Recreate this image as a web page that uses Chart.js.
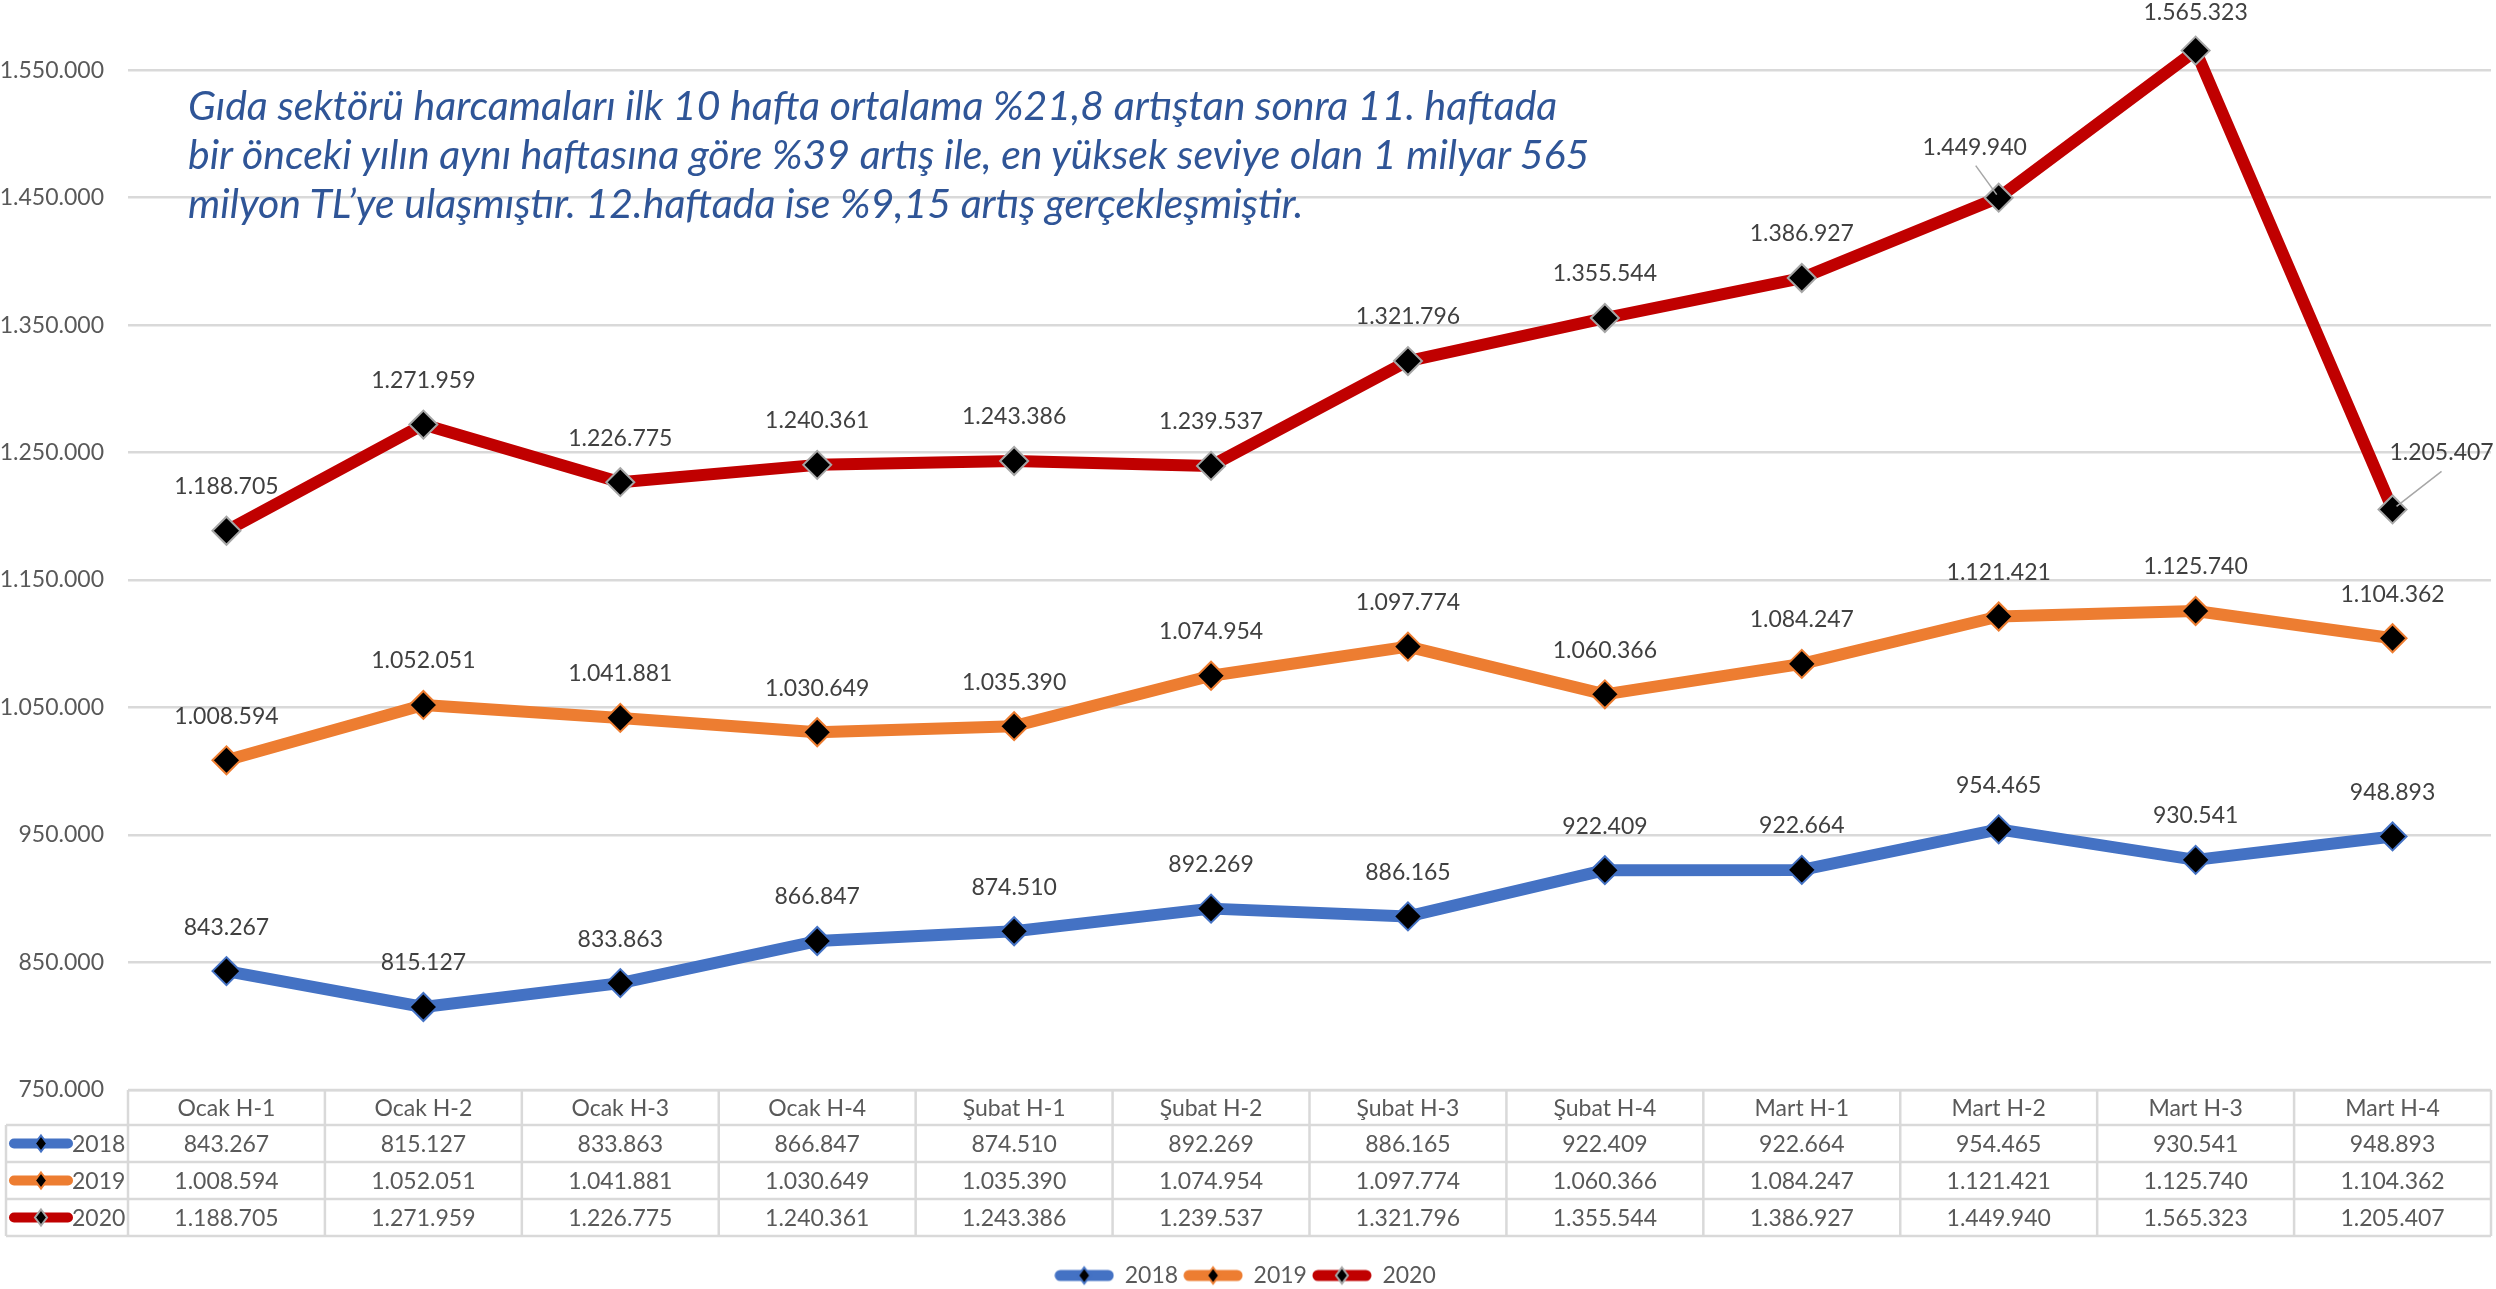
<!DOCTYPE html>
<html lang="tr">
<head>
<meta charset="utf-8">
<title>Gıda sektörü harcamaları</title>
<script src="https://cdn.jsdelivr.net/npm/chart.js@4.4.1/dist/chart.umd.min.js"></script>
<style>
  html, body { margin:0; padding:0; background:#fff; }
  #wrap { position:relative; width:2496px; height:1289px; }
  #note {
    position:absolute; left:188px; top:80px; width:1700px;
    font-family:Lato, 'Open Sans', sans-serif; font-style:italic;
    font-size:41px; line-height:49px; color:#2F5597; white-space:nowrap;
  }
</style>
</head>
<body>
<div id="wrap">
  <canvas id="chart" width="2496" height="1289"></canvas>
  <div id="note">Gıda sektörü harcamaları ilk 10 hafta ortalama %21,8 artıştan sonra 11. haftada<br>bir önceki yılın aynı haftasına göre %39 artış ile, en yüksek seviye olan 1 milyar 565<br>milyon TL’ye ulaşmıştır. 12.haftada ise %9,15 artış gerçekleşmiştir.</div>
</div>
<script>
// ── Data ───────────────────────────────────────────────────
const weeks = ['Ocak H-1','Ocak H-2','Ocak H-3','Ocak H-4','Şubat H-1','Şubat H-2','Şubat H-3','Şubat H-4','Mart H-1','Mart H-2','Mart H-3','Mart H-4'];
const years = ['2018','2019','2020'];
const y2018 = [843267,815127,833863,866847,874510,892269,886165,922409,922664,954465,930541,948893];
const y2019 = [1008594,1052051,1041881,1030649,1035390,1074954,1097774,1060366,1084247,1121421,1125740,1104362];
const y2020 = [1188705,1271959,1226775,1240361,1243386,1239537,1321796,1355544,1386927,1449940,1565323,1205407];
const yTicks = [750000,850000,950000,1050000,1150000,1250000,1350000,1450000,1550000];

const lineColors   = ['#4472C4','#ED7D31','#C00000'];
const markerBorder = ['#4472C4','#ED7D31','#A6A6A6'];
const FONT = "Lato, 'Open Sans', sans-serif";
const GREY = '#595959';
const GRID = '#D9D9D9';
const FS = 23;
const PLOT_BOTTOM = 1090;
const PAD_BOTTOM = -8;

function fmt(n) { return String(n).replace(/\B(?=(\d{3})+(?!\d))/g, '.'); }

// ── Legend key: thick line with a diamond ──────────────────
function drawKey(ctx, x0, x1, cy, i, lw, r) {
  ctx.save();
  ctx.strokeStyle = lineColors[i];
  ctx.lineWidth = lw;
  ctx.lineCap = 'round';
  ctx.beginPath(); ctx.moveTo(x0, cy); ctx.lineTo(x1, cy); ctx.stroke();
  const cx = (x0 + x1) / 2;
  ctx.beginPath();
  ctx.moveTo(cx, cy - r); ctx.lineTo(cx + r * 0.75, cy); ctx.lineTo(cx, cy + r); ctx.lineTo(cx - r * 0.75, cy); ctx.closePath();
  ctx.fillStyle = '#000'; ctx.fill();
  ctx.lineWidth = 2; ctx.strokeStyle = markerBorder[i]; ctx.stroke();
  ctx.restore();
}

function keyCanvas(i) {
  const c = document.createElement('canvas');
  c.width = 60; c.height = 22;
  drawKey(c.getContext('2d'), 6, 54, 11, i, 11, 8);
  return c;
}

// ── Data labels on the points ──────────────────────────────
const labelPlugin = {
  id: 'pointLabels',
  afterDatasetsDraw(chart) {
    const ctx = chart.ctx;
    ctx.save();
    ctx.font = FS + 'px ' + FONT;
    ctx.fillStyle = '#404040';
    ctx.textAlign = 'center';
    ctx.textBaseline = 'middle';
    chart.data.datasets.forEach((ds, di) => {
      chart.getDatasetMeta(di).data.forEach((pt, i) => {
        let dx = 0, dy = -44, lead = null;
        if (di === 2 && i === 9)  { dx = -24; dy = -50; lead = [[-23, -32], [-2, -3]]; }
        if (di === 2 && i === 10) { dy = -38; }
        if (di === 2 && i === 11) { dx = 49; dy = -57; lead = [[49, -38], [4, -3]]; }
        if (lead) {
          ctx.save();
          ctx.strokeStyle = '#A6A6A6'; ctx.lineWidth = 1.5;
          ctx.beginPath();
          ctx.moveTo(pt.x + lead[0][0], pt.y + lead[0][1]);
          ctx.lineTo(pt.x + lead[1][0], pt.y + lead[1][1]);
          ctx.stroke();
          ctx.restore();
        }
        ctx.fillText(fmt(ds.data[i]), pt.x + dx, pt.y + dy);
      });
    });
    ctx.restore();
  }
};

// ── Data table under the plot ──────────────────────────────
const tablePlugin = {
  id: 'dataTable',
  afterDraw(chart) {
    const ctx = chart.ctx;
    const xs = chart.scales.x;
    const half = (xs.getPixelForValue(1) - xs.getPixelForValue(0)) / 2;
    const top = chart.chartArea.bottom;
    const rowH = [35, 37, 37, 37];
    const rows = [top];
    rowH.forEach(h => rows.push(rows[rows.length - 1] + h));
    const left = 6;
    const x0 = xs.getPixelForValue(0) - half;
    const x1 = xs.getPixelForValue(weeks.length - 1) + half;
    const series = [y2018, y2019, y2020];

    ctx.save();
    ctx.strokeStyle = GRID;
    ctx.lineWidth = 2.5;
    ctx.beginPath();
    ctx.moveTo(x0, rows[0]); ctx.lineTo(x1, rows[0]);
    for (let r = 1; r < rows.length; r++) { ctx.moveTo(left, rows[r]); ctx.lineTo(x1, rows[r]); }
    ctx.moveTo(left, rows[1]); ctx.lineTo(left, rows[4]);
    for (let i = 0; i <= weeks.length; i++) {
      const x = x0 + i * half * 2;
      ctx.moveTo(x, rows[0]); ctx.lineTo(x, rows[4]);
    }
    ctx.stroke();

    ctx.font = FS + 'px ' + FONT;
    ctx.fillStyle = GREY;
    ctx.textAlign = 'center';
    ctx.textBaseline = 'middle';
    weeks.forEach((w, i) => {
      const cx = xs.getPixelForValue(i);
      ctx.fillText(w, cx, (rows[0] + rows[1]) / 2 + 1);
      series.forEach((s, si) => ctx.fillText(fmt(s[i]), cx, (rows[si + 1] + rows[si + 2]) / 2 + 1));
    });
    years.forEach((y, si) => {
      const cy = (rows[si + 1] + rows[si + 2]) / 2;
      drawKey(ctx, 14, 68, cy, si, 10, 8);
      ctx.fillStyle = GREY;
      ctx.textAlign = 'left';
      ctx.fillText(y, 72, cy + 1);
    });
    ctx.restore();
  }
};

function dataset(label, data, i) {
  return {
    label, data,
    borderColor: lineColors[i],
    backgroundColor: lineColors[i],
    borderWidth: 12,
    borderCapStyle: 'round',
    borderJoinStyle: 'round',
    tension: 0,
    pointStyle: 'rectRot',
    pointRadius: 14,
    pointHoverRadius: 14,
    pointBackgroundColor: '#000',
    pointBorderColor: markerBorder[i],
    pointBorderWidth: 2,
    clip: false
  };
}

Chart.defaults.font.family = FONT;
Chart.defaults.color = GREY;

new Chart(document.getElementById('chart'), {
  type: 'line',
  data: {
    labels: weeks,
    datasets: [dataset(years[0], y2018, 0), dataset(years[1], y2019, 1), dataset(years[2], y2020, 2)]
  },
  options: {
    responsive: false,
    animation: false,
    layout: { autoPadding: false, padding: { left: 0, right: 5, top: 0, bottom: PAD_BOTTOM } },
    scales: {
      x: {
        type: 'category',
        offset: true,
        grid: { display: false },
        border: { display: false },
        ticks: { display: false },
        afterFit(scale) {
          const lg = scale.chart.legend ? scale.chart.legend.height : 40;
          scale.height = scale.chart.height - PAD_BOTTOM - PLOT_BOTTOM - lg;
          scale.paddingLeft = 0; scale.paddingRight = 0;
        }
      },
      y: {
        min: 750000,
        max: 1605000,
        afterBuildTicks(scale) { scale.ticks = yTicks.map(v => ({ value: v })); },
        afterFit(scale) { scale.width = 128; scale.paddingTop = 0; scale.paddingBottom = 0; },
        grid: { color: GRID, lineWidth: 2.5, drawTicks: false },
        border: { display: false },
        ticks: { padding: 24, font: { size: FS }, color: GREY, callback: v => fmt(v) }
      }
    },
    plugins: {
      tooltip: { enabled: false },
      legend: {
        position: 'bottom',
        labels: {
          usePointStyle: true,
          pointStyleWidth: 58,
          padding: 6,
          color: GREY,
          font: { size: FS },
          generateLabels(chart) {
            return chart.data.datasets.map((ds, i) => ({
              text: ds.label, pointStyle: keyCanvas(i), datasetIndex: i,
              fillStyle: ds.borderColor, strokeStyle: ds.borderColor, lineWidth: 0, fontColor: GREY
            }));
          }
        }
      }
    }
  },
  plugins: [labelPlugin, tablePlugin]
});
</script>
</body>
</html>
